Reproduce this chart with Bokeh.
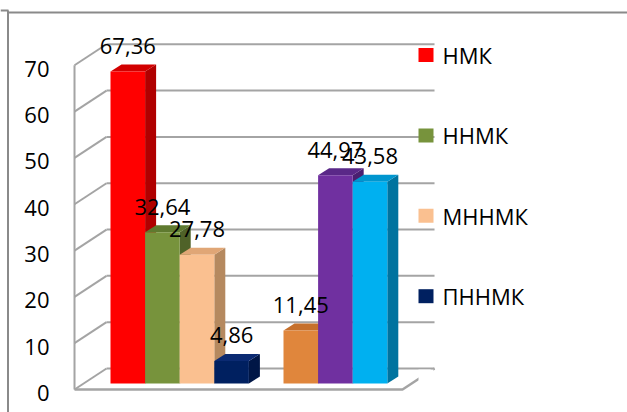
from bokeh.plotting import figure
from bokeh.models import Range1d
from bokeh.core.properties import value
from bokeh.embed import file_html
from bokeh.resources import INLINE

# ---- data ----
series_names = ["НМК", "ННМК", "МННМК", "ПННМК"]
group1_values = [67.36, 32.64, 27.78, 4.86]
group2_values = [11.45, 44.97, 43.58]

group1_front = ["#ff0000", "#77933c", "#fac090", "#002060"]
group1_top = ["#d20000", "#5f7a2f", "#e0a676", "#0b2a72"]
group1_side = ["#b00000", "#4f6228", "#b5895f", "#001646"]

group2_front = ["#e0863c", "#7030a0", "#00b0f0"]
group2_top = ["#c6702c", "#5a2888", "#0096cf"]
group2_side = ["#a65a1e", "#4a1f70", "#00739f"]

legend_labels = series_names + [""]
legend_colors = group1_front + ["#ffffff"]

y_ticks = [0, 10, 20, 30, 40, 50, 60, 70]
y_max = 70

# ---- geometry (pixels per data unit and depth offsets) ----
W, H = 627, 412
SLOT_PX = 34.6          # width of one bar slot
UNIT_PX = 4.632         # pixels per value unit
X0_PX, Y0_PX = 110, 383  # where slot 0 / value 0 sits on the bar plane

def dx(px):
    return px / SLOT_PX

def dy(px):
    return px / UNIT_PX

bar_depth = (dx(11), dy(7))
back_off = (dx(23), dy(15))
front_off = (dx(-9), dy(-6))
wall_left, wall_right = -0.78, 8.70

x_range = Range1d(-X0_PX / SLOT_PX, (W - X0_PX) / SLOT_PX)
y_range = Range1d((Y0_PX - H) / UNIT_PX, Y0_PX / UNIT_PX)

p = figure(width=W, height=H, x_range=x_range, y_range=y_range,
           x_axis_type=None, y_axis_type=None,
           output_backend="svg", toolbar_location=None, tools="",
           min_border=0, background_fill_color="white",
           border_fill_color="white")
p.outline_line_color = None
p.extra_x_ranges = {"px": Range1d(0, W)}
p.extra_y_ranges = {"px": Range1d(H, 0)}

GRID = "#a4a4a4"
FONT = "Open Sans"

# ---- walls and gridlines ----
bx, by = back_off
fx, fy = front_off
for t in y_ticks:
    p.line([wall_left + bx, wall_right + bx], [t + by, t + by],
           line_color=GRID, line_width=2)
    p.line([wall_left + fx, wall_left + bx], [t + fy, t + by],
           line_color=GRID, line_width=2)
p.line([wall_left + fx, wall_left + fx], [fy, y_max + fy],
       line_color=GRID, line_width=2)
# floor edges
p.line([wall_left + fx, wall_right + fx, wall_right + bx],
       [fy, fy, by], line_color=GRID, line_width=2.5)

# ---- 3D bars ----
slots = list(range(len(group1_values))) + \
    [len(group1_values) + 1 + i for i in range(len(group2_values))]
values = group1_values + group2_values
fronts = group1_front + group2_front
tops = group1_top + group2_top
sides = group1_side + group2_side

ddx, ddy = bar_depth
for s, v, cf, ct, cs in zip(slots, values, fronts, tops, sides):
    p.patch([s + 1, s + 1 + ddx, s + 1 + ddx, s + 1],
            [0, ddy, v + ddy, v], fill_color=cs, line_color=None)
    p.patch([s, s + 1, s + 1 + ddx, s + ddx],
            [v, v, v + ddy, v + ddy], fill_color=ct, line_color=None)
    p.patch([s, s + 1, s + 1, s], [0, 0, v, v],
            fill_color=cf, line_color=None)

# value labels
label_lift = dy(25.5)
p.text(x=[s + 0.5 for s in slots], y=[v + label_lift for v in values],
       text=[f"{v:.2f}".replace(".", ",") for v in values],
       text_align="center", text_baseline="middle",
       text_font=value(FONT), text_font_size="22px", text_color="#000000")

# value axis labels
p.text(x=[wall_left + fx - dx(25)] * len(y_ticks),
       y=[t + fy - 0.75 for t in y_ticks],
       text=[str(t) for t in y_ticks],
       text_align="right", text_baseline="middle",
       text_font=value(FONT), text_font_size="22px", text_color="#000000")

# ---- legend ----
leg_y = [54.5 + 80.4 * i for i in range(len(legend_labels))]
p.rect(x=[425.5] * len(legend_labels), y=leg_y, width=15, height=14,
       width_units="screen", height_units="screen",
       fill_color=legend_colors, line_color=None,
       x_range_name="px", y_range_name="px")
p.text(x=[442] * len(legend_labels), y=leg_y, text=legend_labels,
       text_align="left", text_baseline="middle",
       text_font=value(FONT), text_font_size="22px", text_color="#000000",
       x_range_name="px", y_range_name="px")

# ---- chart border ----
BORDER = "#8a8a8a"
p.line([7.5, W], [12, 12], line_color=BORDER, line_width=2,
       x_range_name="px", y_range_name="px")
p.line([7.5, 7.5], [10, H], line_color=BORDER, line_width=2,
       x_range_name="px", y_range_name="px")
p.line([0, 8], [10, 10], line_color=BORDER, line_width=2,
       x_range_name="px", y_range_name="px")

open("out.html", "w").write(file_html(p, INLINE))
